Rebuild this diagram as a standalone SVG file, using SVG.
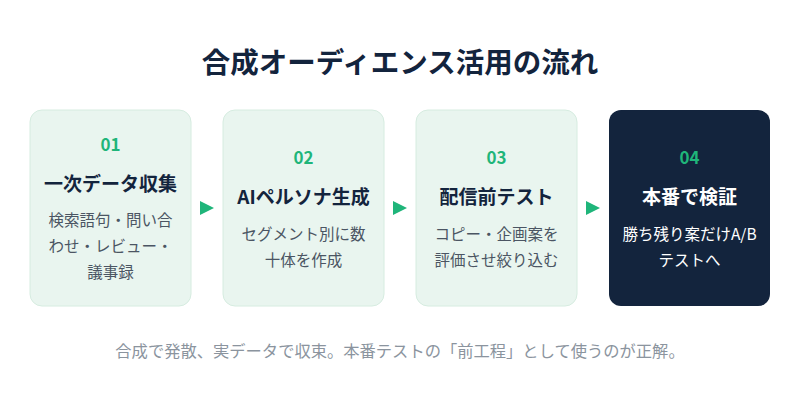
<svg xmlns="http://www.w3.org/2000/svg" width="800" height="400" viewBox="0 0 800 400">
<style>
text{font-family:"Noto Sans CJK JP","Noto Sans",sans-serif;text-anchor:middle}
.box{fill:#e9f5ef;stroke:#d6ece0;stroke-width:1}
.dark{fill:#13243d}
.num{font-size:17px;font-weight:700;fill:#1fb57a}
.ttl{font-size:19px;font-weight:700;fill:#13243d}
.dsc{font-size:15.5px;fill:#4b5563}
.w{fill:#ffffff}
.arr{fill:#1fb57a}
</style>
<rect width="800" height="400" fill="#fff"/>
<text x="400" y="73" style="font-size:28.5px;font-weight:700;fill:#13243d">合成オーディエンス活用の流れ</text>
<g id="n1"><rect class="box" x="30" y="110" width="161" height="196" rx="12"/>
<text class="num" x="110.5" y="151">01</text><text class="ttl" x="110.5" y="191">一次データ収集</text>
<text class="dsc" x="110.5" y="226">検索語句・問い合</text><text class="dsc" x="110.5" y="252">わせ・レビュー・</text><text class="dsc" x="110.5" y="278">議事録</text></g>
<g id="n2"><rect class="box" x="223" y="110" width="161" height="196" rx="12"/>
<text class="num" x="303.5" y="164">02</text><text class="ttl" x="303.5" y="204">AIペルソナ生成</text>
<text class="dsc" x="303.5" y="240">セグメント別に数</text><text class="dsc" x="303.5" y="266">十体を作成</text></g>
<g id="n3"><rect class="box" x="416" y="110" width="161" height="196" rx="12"/>
<text class="num" x="496.5" y="164">03</text><text class="ttl" x="496.5" y="204">配信前テスト</text>
<text class="dsc" x="496.5" y="240">コピー・企画案を</text><text class="dsc" x="496.5" y="266">評価させ絞り込む</text></g>
<g id="n4"><rect class="dark" x="609" y="110" width="161" height="196" rx="12"/>
<text class="num" x="689.5" y="164">04</text><text class="ttl w" x="689.5" y="204">本番で検証</text>
<text class="dsc w" x="689.5" y="240">勝ち残り案だけA/B</text><text class="dsc w" x="689.5" y="266">テストへ</text></g>
<g id="connectors">
<polygon class="arr" points="200,201 214,208 200,215"/>
<polygon class="arr" points="393,201 407,208 393,215"/>
<polygon class="arr" points="586,201 600,208 586,215"/>
</g>
<text x="400" y="357" style="font-size:16.3px;fill:#8b949e">合成で発散、実データで収束。本番テストの「前工程」として使うのが正解。</text>
</svg>
